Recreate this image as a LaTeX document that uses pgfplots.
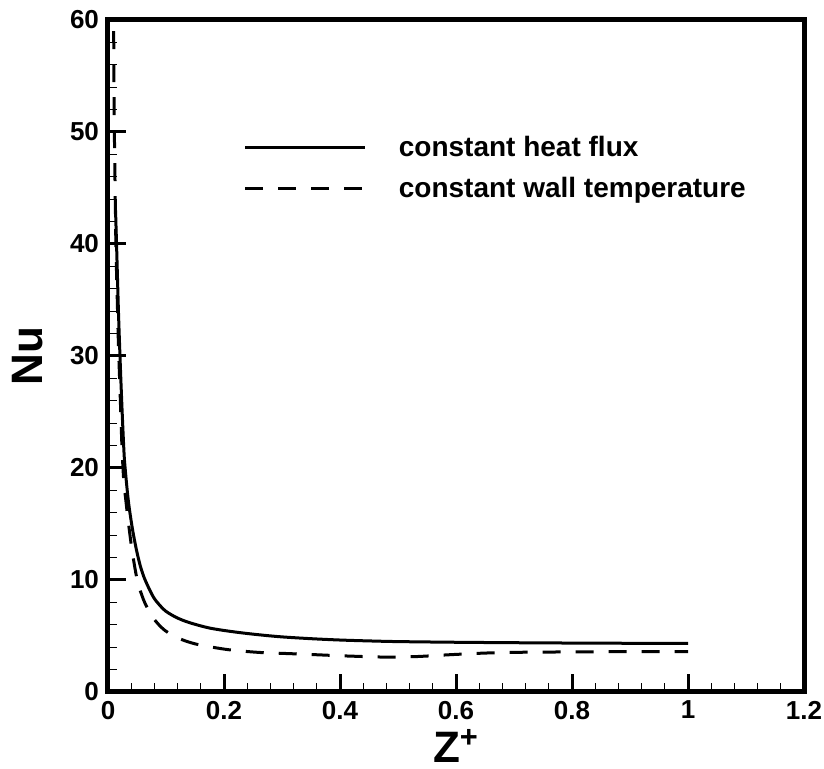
\documentclass[border=0pt]{standalone}
\usepackage{fontspec}
\setmainfont{Liberation Sans}
\usepackage{pgfplots}
\pgfplotsset{compat=1.18}
\begin{document}
\begin{tikzpicture}
\begin{axis}[name=ax,
  scale only axis, width=348pt, height=336pt,
  xmin=0, xmax=1.2, ymin=0, ymax=60,
  xtick={0,0.2,0.4,0.6,0.8,1,1.2},
  xticklabels={0,0.2,0.4,0.6,0.8,1,1.2},
  ytick={0,10,20,30,40,50,60},
  minor x tick num=4, minor y tick num=4,
  xtick pos=bottom, ytick pos=left, tick align=inside,
  major tick length=9pt, minor tick length=4.5pt,
  every major tick/.style={line width=1.5pt, black},
  every minor tick/.style={line width=0.6pt, black},
  axis line style={line width=2.5pt},
  /pgf/number format/assume math mode=true,
  tick label style={font=\fontsize{13}{15}\selectfont\bfseries},
  xticklabel style={yshift=-1pt},
  yticklabel style={xshift=-1pt},
  xlabel={Z\textsuperscript{+}},
  ylabel={Nu},
  label style={font=\fontsize{22}{24}\selectfont\bfseries},
  xlabel style={at={(axis description cs:0.5,-0.08)}, anchor=center},
  ylabel style={at={(axis description cs:-0.115,0.5)}, anchor=center},
  legend style={draw=none, fill=none, at={(0.186,0.84)}, anchor=north west,
    font=\fontsize{14}{16}\selectfont\bfseries, row sep=5pt,
    /tikz/every odd column/.append style={column sep=14pt}},
  legend cell align=left,
  legend image code/.code={\draw[#1] (0pt,0pt) -- (60pt,0pt);},
]
\addplot[black, line width=1.5pt, smooth] coordinates {
(0.013,43) (0.015,39.5) (0.018,34) (0.021,29.5) (0.024,25.5) (0.027,22) (0.029,20.3)
(0.035,17.1) (0.042,14.6) (0.049,12.7) (0.056,11.2) (0.064,10) (0.078,8.5)
(0.09,7.7) (0.1,7.2) (0.118,6.65) (0.14,6.2) (0.176,5.7) (0.22,5.35) (0.262,5.1)
(0.3,4.92) (0.35,4.76) (0.4,4.64) (0.45,4.56) (0.5,4.5) (0.6,4.44) (0.7,4.4)
(0.8,4.37) (0.9,4.35) (1.0,4.34)
};
\addlegendentry{constant heat flux}
\addplot[black, line width=1.5pt, dash pattern=on 9pt off 7.5pt, smooth] coordinates {
(0.0098,59) (0.0104,54) (0.011,50) (0.012,46) (0.013,42) (0.014,39) (0.016,35)
(0.018,31) (0.021,26.5) (0.024,22) (0.027,19) (0.031,17) (0.035,15.2) (0.041,12.8)
(0.047,10.9) (0.052,9.6) (0.058,8.7) (0.064,7.9) (0.078,6.6) (0.098,5.5)
(0.124,4.75) (0.15,4.3) (0.18,4.0) (0.207,3.78) (0.236,3.63) (0.265,3.52)
(0.3,3.45) (0.34,3.37) (0.38,3.28) (0.42,3.2) (0.475,3.12) (0.53,3.16)
(0.59,3.33) (0.647,3.47) (0.7,3.54) (0.8,3.58) (0.9,3.6) (1.0,3.6)
};
\addlegendentry{constant wall temperature}
\end{axis}
\pgfresetboundingbox
\path[use as bounding box] ([xshift=-54pt,yshift=-38.5pt]ax.south west) rectangle ([xshift=10pt,yshift=10pt]ax.north east);
\end{tikzpicture}
\end{document}
